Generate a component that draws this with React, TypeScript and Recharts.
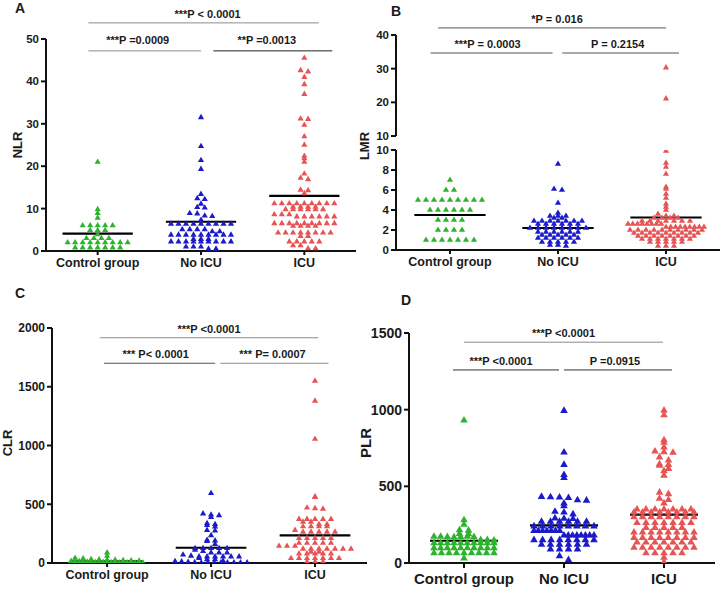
import React from "react";
import { ScatterChart, Scatter, XAxis, YAxis, ReferenceLine } from "recharts";

const groupNames = ["Control group", "No ICU", "ICU"];
const groupColors = ["#2db32d", "#1b1bc9", "#e65454"];

// A - NLR
const nlrControl = [21.0, 9.8, 8.9, 7.8, 6.0, 6.0, 6.0, 6.0, 6.0, 4.9, 4.9, 4.9, 3.9, 3.0, 3.0, 3.0, 3.0, 2.0, 2.0, 2.0, 2.0, 2.0, 2.0, 2.0, 2.0, 2.0, 0.8, 0.8, 0.8, 0.8, 0.8, 0.8, 0.8];
const nlrNoIcu = [31.5, 24.7, 21.4, 19.3, 13.4, 12.4, 12.2, 11.1, 10.3, 10.2, 8.9, 8.8, 8.3, 8.2, 7.3, 6.4, 6.4, 6.4, 6.4, 6.4, 6.4, 6.4, 6.4, 6.4, 5.1, 5.1, 5.1, 5.1, 4.6, 4.6, 3.8, 3.8, 3.8, 3.8, 3.8, 3.8, 3.8, 3.8, 3.8, 2.8, 2.8, 2.8, 2.2, 2.2, 2.2, 2.2, 2.2, 2.2, 2.2, 2.2, 2.2, 1.0, 1.0, 1.0, 0.5, 0.5];
const nlrIcu = [45.5, 42.6, 42.3, 41.0, 39.3, 37.0, 31.2, 31.1, 29.7, 27.0, 25.0, 22.4, 21.8, 21.0, 18.2, 17.2, 16.9, 14.4, 14.3, 13.6, 11.2, 11.2, 11.2, 11.2, 11.2, 11.2, 11.2, 11.2, 11.2, 10.4, 10.4, 10.4, 10.4, 9.8, 9.8, 9.8, 9.8, 9.8, 9.8, 8.6, 8.6, 8.6, 8.1, 8.1, 8.1, 8.1, 8.1, 8.1, 6.5, 6.5, 6.5, 6.5, 6.5, 6.5, 6.5, 6.5, 6.5, 5.9, 5.9, 5.9, 5.9, 4.3, 4.3, 4.3, 4.3, 4.3, 4.3, 4.3, 4.3, 3.5, 3.5, 2.2, 2.2, 2.2, 2.2, 2.2, 1.3, 1.3, 0.6, 0.6];
const nlrMeans = [4.1, 6.9, 13.0];
const nlrTicks = [0, 10, 20, 30, 40, 50];
const nlrTests = [
  { text: "***P < 0.0001", x1: 0.91, x2: 3.14, y: 53.8, color: "#8c8c8c", dx: 4, lift: 5 },
  { text: "***P =0.0009", x1: 0.91, x2: 2.0, y: 47.2, color: "#8c8c8c", dx: -7, lift: 7 },
  { text: "**P =0.0013", x1: 2.12, x2: 3.27, y: 47.2, color: "#222", dx: -6, lift: 7 },
];

// B - LMR (broken axis)
const lmrControl = [7, 6, 6, 5, 5, 5, 5, 5, 5, 5, 5, 5, 4, 4, 4, 4, 4, 4, 3, 3, 3, 3, 2, 2, 2, 2, 1, 1, 1, 1, 1, 1, 1];
const lmrNoIcu = [8.6, 6.1, 6.0, 4.7, 3.7, 3.4, 3.4, 3.4, 3.2, 3.2, 2.9, 2.9, 2.9, 2.9, 2.9, 2.9, 2.9, 2.6, 2.6, 2.6, 2.6, 2.6, 2.6, 2.2, 2.2, 2.2, 2.2, 2.2, 2.2, 2.2, 2.2, 1.8, 1.8, 1.8, 1.8, 1.8, 1.8, 1.5, 1.5, 1.5, 1.5, 1.5, 1.2, 1.2, 1.2, 1.2, 1.2, 1.2, 0.8, 0.8, 0.8, 0.8, 0.8, 0.5, 0.5, 0.4];
const lmrIcu = [30.3, 21.1, 9.9, 8.7, 8.3, 7.6, 6.3, 6.1, 5.6, 5.2, 4.6, 4.3, 4.0, 3.6, 3.4, 3.4, 3.2, 3.2, 3.2, 3.2, 2.9, 2.9, 2.9, 2.9, 2.9, 2.9, 2.9, 2.6, 2.6, 2.6, 2.6, 2.6, 2.6, 2.6, 2.6, 2.3, 2.3, 2.3, 2.3, 2.3, 2.3, 2.3, 2.3, 2.3, 2.0, 2.0, 2.0, 2.0, 2.0, 2.0, 2.0, 2.0, 2.0, 2.0, 1.7, 1.7, 1.7, 1.7, 1.7, 1.7, 1.7, 1.7, 1.7, 1.4, 1.4, 1.4, 1.4, 1.4, 1.4, 1.4, 1.4, 1.1, 1.1, 1.1, 1.1, 1.1, 1.1, 1.1, 0.8, 0.8, 0.8, 0.8, 0.8, 0.4, 0.4, 0.4];
const lmrMeans = [3.5, 2.2, 3.25];
const lmrLowTicks = [0, 2, 4, 6, 8, 10];
const lmrHighTicks = [10, 20, 30, 40];
const lmrTests = [
  { text: "*P = 0.016", x1: 0.89, x2: 3.0, y: 42.1, color: "#555", dx: 5, lift: 5 },
  { text: "***P = 0.0003", x1: 0.82, x2: 1.95, y: 34.65, color: "#555", dx: -4, lift: 5 },
  { text: "P  = 0.2154", x1: 2.04, x2: 3.12, y: 34.65, color: "#555", dx: -3, lift: 5 },
];

// C - CLR
const clrControl = [88, 60, 42, 38, 32, 30, 28, 26, 22, 20, 18, 16, 15, 14, 12, 10, 10, 8, 8, 7, 6, 5, 5, 4, 3, 3, 2, 2, 1, 1];
const clrNoIcu = [593, 420, 410, 405, 389, 338, 330, 322, 309, 280, 275, 235, 196, 190, 185, 160, 125, 125, 125, 125, 125, 110, 100, 88, 88, 88, 70, 60, 54, 54, 54, 54, 54, 54, 40, 31, 31, 18, 15, 12, 8, 5, 3, 3, 3, 3, 3, 3, 3, 3];
const clrIcu = [1550, 1380, 1055, 565, 560, 470, 465, 460, 373, 373, 373, 373, 373, 350, 350, 330, 330, 310, 310, 310, 310, 280, 265, 265, 265, 265, 265, 212, 212, 212, 212, 212, 170, 170, 170, 170, 170, 145, 145, 145, 120, 120, 120, 120, 120, 120, 120, 95, 95, 80, 80, 80, 80, 80, 40, 40, 40, 40, 40, 40, 40, 10, 10, 10];
const clrMeans = [15, 130, 235];
const clrTicks = [0, 500, 1000, 1500, 2000];
const clrTests = [
  { text: "***P <0.0001", x1: 0.93, x2: 3.03, y: 1917, color: "#8c8c8c", dx: 0, lift: 5 },
  { text: "*** P< 0.0001", x1: 0.97, x2: 2.04, y: 1700, color: "#555", dx: -4, lift: 5 },
  { text: "*** P= 0.0007", x1: 2.09, x2: 3.13, y: 1700, color: "#8c8c8c", dx: -2, lift: 5 },
];

// D - PLR
const plrControl = [930, 280, 250, 215, 212, 190, 188, 172, 172, 170, 168, 170, 172, 170, 150, 150, 148, 130, 130, 130, 130, 130, 130, 130, 130, 130, 130, 98, 98, 98, 98, 98, 98, 98, 98, 98, 98, 65, 65, 65, 65, 65, 65, 65, 65, 65, 30];
const plrNoIcu = [993, 722, 641, 575, 555, 432, 430, 428, 425, 410, 408, 389, 372, 335, 330, 318, 292, 290, 288, 270, 270, 270, 270, 270, 270, 240, 240, 240, 240, 240, 240, 240, 240, 210, 210, 210, 210, 210, 210, 210, 180, 180, 180, 180, 180, 180, 180, 180, 150, 150, 150, 150, 150, 150, 150, 150, 120, 120, 120, 120, 120, 120, 90, 90, 90, 90, 45, 20];
const plrIcu = [995, 965, 802, 785, 755, 728, 724, 720, 690, 670, 645, 640, 635, 615, 600, 570, 460, 450, 420, 412, 390, 350, 350, 350, 350, 350, 350, 350, 330, 330, 330, 330, 330, 330, 330, 330, 300, 300, 300, 300, 300, 300, 300, 300, 262, 262, 262, 262, 262, 262, 262, 230, 230, 230, 230, 230, 200, 200, 200, 200, 200, 200, 200, 200, 165, 165, 165, 165, 165, 165, 165, 165, 135, 135, 135, 135, 135, 135, 135, 100, 100, 100, 100, 100, 100, 100, 100, 65, 65, 65, 65, 65, 35, 5];
const plrMeans = [145, 245, 315];
const plrTicks = [0, 500, 1000, 1500];
const plrTests = [
  { text: "***P <0.0001", x1: 1.0, x2: 2.99, y: 1440, color: "#8c8c8c", dx: 0, lift: 5 },
  { text: "***P <0.0001", x1: 0.89, x2: 1.95, y: 1259, color: "#333", dx: -5, lift: 5 },
  { text: "P =0.0915", x1: 2.0, x2: 3.08, y: 1259, color: "#333", dx: -3, lift: 5 },
];

type Test = { text: string; x1: number; x2: number; y: number; color: string; dx: number; lift: number };

type Panel = {
  left: number;
  top: number;
  width: number;
  height: number;
  margin: { top: number; right: number; bottom: number; left: number };
  yWidth: number;
  xHeight: number;
  hideX?: boolean;
  xDomain: [number, number];
  yDomain: [number, number];
  yTicks: number[];
  groups: number[][];
  means?: number[];
  tests?: Test[];
  tickFont: number;
  catFont: number;
  xTickSize: number;
  xTickMargin: number;
  side: number;
  rowPx: number;
  stepPx: number;
  maxHalfPx: number;
  meanHalf: number;
};

// rows of near-equal values are spread sideways, like a GraphPad dot plot
function swarm(values: number[], center: number, pxY: number, pxX: number, rowPx: number, stepPx: number, maxHalfPx: number) {
  const rows = new Map<number, number[]>();
  values.forEach((v) => {
    const k = Math.round((v * pxY) / rowPx);
    if (!rows.has(k)) rows.set(k, []);
    rows.get(k)!.push(v);
  });
  const pts: { x: number; y: number }[] = [];
  rows.forEach((vs) => {
    const n = vs.length;
    const step = n > 1 ? Math.min(stepPx, (2 * maxHalfPx) / (n - 1)) : 0;
    vs.forEach((v, i) => pts.push({ x: center + ((i - (n - 1) / 2) * step) / pxX, y: v }));
  });
  return pts;
}

function triangle(side: number, fill: string) {
  return (props: any) => {
    const { cx, cy } = props;
    if (cx == null || cy == null) return <g />;
    const h = side * 0.866;
    const pts = `${cx},${cy - (2 * h) / 3} ${cx - side / 2},${cy + h / 3} ${cx + side / 2},${cy + h / 3}`;
    return <polygon points={pts} fill={fill} />;
  };
}

function DotPanel({ p }: { p: Panel }) {
  const xH = p.hideX ? 0 : p.xHeight;
  const plotH = p.height - p.margin.top - p.margin.bottom - xH;
  const plotW = p.width - p.margin.left - p.margin.right - p.yWidth;
  const pxY = plotH / (p.yDomain[1] - p.yDomain[0]);
  const pxX = plotW / (p.xDomain[1] - p.xDomain[0]);
  const series = p.groups.map((vals, i) => swarm(vals, i + 1, pxY, pxX, p.rowPx, p.stepPx, p.maxHalfPx));
  const axisStyle = { stroke: "#111", strokeWidth: 2 };

  return (
    <div style={{ position: "absolute", left: p.left, top: p.top }}>
      <ScatterChart width={p.width} height={p.height} margin={p.margin}>
        <XAxis
          type="number"
          dataKey="x"
          domain={p.xDomain}
          ticks={[1, 2, 3]}
          interval={0}
          hide={p.hideX}
          height={p.xHeight}
          allowDataOverflow
          tickFormatter={(v: number) => groupNames[v - 1]}
          tickSize={p.xTickSize}
          tickMargin={p.xTickMargin}
          axisLine={axisStyle}
          tickLine={axisStyle}
          tick={{ fontSize: p.catFont, fontWeight: 700, fill: "#1a1a1a" }}
        />
        <YAxis
          type="number"
          dataKey="y"
          domain={p.yDomain}
          ticks={p.yTicks}
          interval={0}
          width={p.yWidth}
          allowDataOverflow
          tickSize={5}
          tickMargin={2}
          axisLine={axisStyle}
          tickLine={axisStyle}
          tick={{ fontSize: p.tickFont, fontWeight: 700, fill: "#1a1a1a" }}
        />
        {series.map((d, i) => (
          <Scatter key={groupNames[i]} data={d} fill={groupColors[i]} shape={triangle(p.side, groupColors[i])} isAnimationActive={false} />
        ))}
        {(p.means || []).map((m, i) => (
          <ReferenceLine
            key={`m${i}`}
            ifOverflow="visible"
            segment={[
              { x: i + 1 - p.meanHalf, y: m },
              { x: i + 1 + p.meanHalf, y: m },
            ]}
            stroke="#000"
            strokeWidth={2.2}
          />
        ))}
        {(p.tests || []).map((t, i) => (
          <ReferenceLine
            key={`t${i}`}
            ifOverflow="visible"
            segment={[
              { x: t.x1, y: t.y },
              { x: t.x2, y: t.y },
            ]}
            stroke={t.color}
            strokeWidth={1}
            label={(lp: any) => {
              const vb = lp.viewBox || { x: 0, y: 0, width: 0 };
              return (
                <text x={vb.x + vb.width / 2 + t.dx} y={vb.y - t.lift} textAnchor="middle" fontSize={11} fontWeight={700} fill="#1a1a1a">
                  {t.text}
                </text>
              );
            }}
          />
        ))}
      </ScatterChart>
    </div>
  );
}

function Tag({ text, x, y, size, rotate }: { text: string; x: number; y: number; size: number; rotate?: boolean }) {
  return (
    <div
      style={{
        position: "absolute",
        left: x,
        top: y,
        transform: `translate(-50%, -50%)${rotate ? " rotate(-90deg)" : ""}`,
        fontSize: size,
        fontWeight: 700,
        color: "#1a1a1a",
        whiteSpace: "nowrap",
        lineHeight: 1,
      }}
    >
      {text}
    </div>
  );
}

const panelA: Panel = {
  left: 0, top: 0, width: 360, height: 280,
  margin: { top: 39, right: 4, left: 6, bottom: 4 },
  yWidth: 40, xHeight: 25, xDomain: [0.5, 3.5], yDomain: [0, 50], yTicks: nlrTicks,
  groups: [nlrControl, nlrNoIcu, nlrIcu], means: nlrMeans, tests: nlrTests,
  tickFont: 11.5, catFont: 12.5, xTickSize: 4, xTickMargin: 3,
  side: 6.2, rowPx: 4, stepPx: 7.5, maxHalfPx: 35, meanHalf: 0.34,
};

const panelBHigh: Panel = {
  left: 350, top: 0, width: 371, height: 160,
  margin: { top: 35, right: 1, left: 16, bottom: 24 },
  yWidth: 30, xHeight: 25, hideX: true, xDomain: [0.5, 3.5], yDomain: [10, 40], yTicks: lmrHighTicks,
  groups: [lmrControl, lmrNoIcu, lmrIcu].map((g) => g.filter((v) => v > 10)), tests: lmrTests,
  tickFont: 11.5, catFont: 12.5, xTickSize: 4, xTickMargin: 3,
  side: 6.2, rowPx: 4, stepPx: 8, maxHalfPx: 38, meanHalf: 0.33,
};

const panelBLow: Panel = {
  left: 350, top: 140, width: 371, height: 140,
  margin: { top: 10, right: 1, left: 16, bottom: 5 },
  yWidth: 30, xHeight: 25, xDomain: [0.5, 3.5], yDomain: [0, 10], yTicks: lmrLowTicks,
  groups: [lmrControl, lmrNoIcu, lmrIcu].map((g) => g.filter((v) => v <= 10)), means: lmrMeans,
  tickFont: 11.5, catFont: 12.5, xTickSize: 4, xTickMargin: 3,
  side: 6.2, rowPx: 3.5, stepPx: 8, maxHalfPx: 38, meanHalf: 0.33,
};

const panelC: Panel = {
  left: 0, top: 280, width: 370, height: 309,
  margin: { top: 48, right: 3, left: 8, bottom: 4 },
  yWidth: 44, xHeight: 22, xDomain: [0.47, 3.5], yDomain: [0, 2000], yTicks: clrTicks,
  groups: [clrControl, clrNoIcu, clrIcu], means: clrMeans, tests: clrTests,
  tickFont: 12, catFont: 12.5, xTickSize: 4, xTickMargin: 3,
  side: 6.2, rowPx: 4, stepPx: 8, maxHalfPx: 36, meanHalf: 0.34,
};

const panelD: Panel = {
  left: 350, top: 280, width: 371, height: 309,
  margin: { top: 53, right: 6, left: 15, bottom: 4 },
  yWidth: 44, xHeight: 22, xDomain: [0.45, 3.51], yDomain: [0, 1500], yTicks: plrTicks,
  groups: [plrControl, plrNoIcu, plrIcu], means: plrMeans, tests: plrTests,
  tickFont: 14, catFont: 15, xTickSize: 5, xTickMargin: 5,
  side: 7.6, rowPx: 5, stepPx: 9, maxHalfPx: 30, meanHalf: 0.34,
};

export default function App() {
  return (
    <div
      style={{
        position: "absolute",
        left: 0,
        top: 0,
        width: 721,
        height: 589,
        background: "#fff",
        fontFamily: "'Liberation Sans', Arial, sans-serif",
      }}
    >
      <DotPanel p={panelA} />
      <DotPanel p={panelBLow} />
      <DotPanel p={panelBHigh} />
      <DotPanel p={panelC} />
      <DotPanel p={panelD} />
      <Tag text="A" x={20} y={8} size={14} />
      <Tag text="B" x={396} y={11} size={14} />
      <Tag text="C" x={20} y={293} size={14} />
      <Tag text="D" x={406} y={300} size={14} />
      <Tag text="NLR" x={17} y={145} size={13} rotate />
      <Tag text="LMR" x={364} y={146} size={13} rotate />
      <Tag text="CLR" x={7} y={443} size={13} rotate />
      <Tag text="PLR" x={365} y={443} size={15} rotate />
    </div>
  );
}
